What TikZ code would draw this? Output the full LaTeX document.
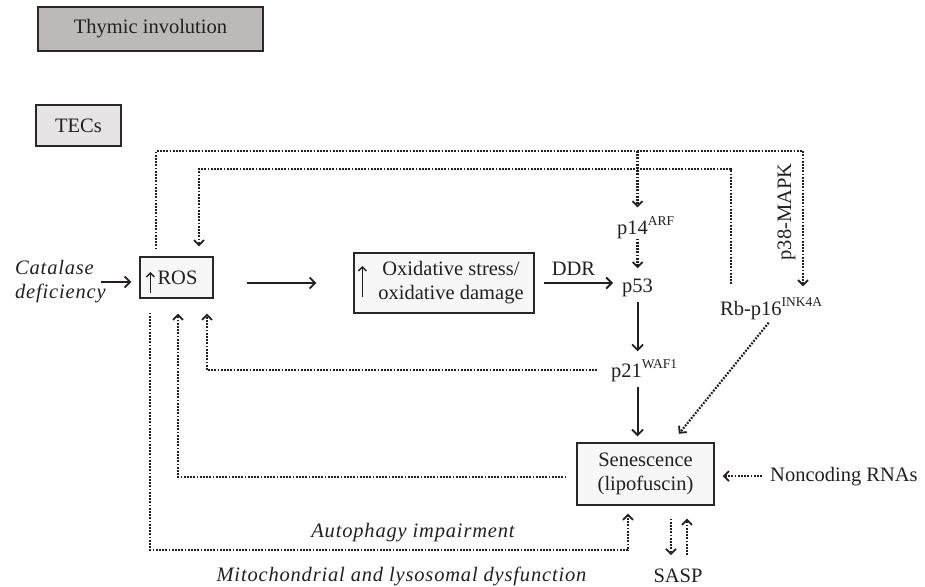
\documentclass[tikz,border=0pt]{standalone}
\usepackage{fontspec}
\setmainfont{Liberation Serif}
\newfontfamily\itf{Liberation Serif}[LetterSpace=4]
\usetikzlibrary{arrows.meta}
\newcommand\supt[1]{\raisebox{9pt}{\fontsize{13.5}{13.5}\selectfont #1}}
\definecolor{thym}{RGB}{189,185,185}
\definecolor{tecc}{RGB}{230,228,228}
\definecolor{lite}{RGB}{247,247,247}
\definecolor{edge}{RGB}{40,40,40}
\definecolor{ink}{RGB}{35,31,32}
\begin{document}
\begin{tikzpicture}[x=1pt,y=-1pt, color=ink,
  every node/.style={font=\fontsize{20.5}{24}\selectfont, inner sep=0pt, text=ink},
  itl/.style={font=\fontsize{20.5}{24}\selectfont\itf\itshape},
  box/.style={draw=edge, line width=1.3pt, fill=lite},
  solidarr/.style={line width=2pt, -{Straight Barb[length=5.5pt,width=11pt,line width=1.8pt]}},
  dotl/.style={line width=2.2pt, dash pattern=on 1.8pt off 1.4pt},
  dotarr/.style={dotl, -{Straight Barb[length=5pt,width=10pt,line width=1.8pt]}},
  uparr/.style={line width=1.5pt, -{Straight Barb[length=4pt,width=8pt,line width=1.4pt]}}]
\useasboundingbox (0,0) rectangle (925,586);

% boxes
\node[box, fill=thym, minimum width=225, minimum height=44] (thy) at (150.5,29) {Thymic involution};
\node[box, fill=tecc, minimum width=85, minimum height=41] (tec) at (78.5,125.5) {TECs};
\node[box, minimum width=73, minimum height=41] (ros) at (176.5,277.5) {\hspace*{2pt}ROS};
\node[box, minimum width=180, minimum height=60] (ox) at (444,283) {};
\node[align=center] (oxt) at (451,283) {Oxidative stress/\\oxidative damage};
\node[box, minimum width=137, minimum height=62, align=center] (sen) at (645.5,474) {Senescence\\(lipofuscin)};

\draw[uparr] ([xshift=11pt,yshift=-15.5pt]ros.west) -- ([xshift=11pt,yshift=5.5pt]ros.west);
\draw[uparr] ([xshift=9pt,yshift=-14pt]ox.west) -- ([xshift=9pt,yshift=17pt]ox.west);

% text nodes
\node[itl, anchor=west, align=left] (cat) at (15,282) {Catalase\\deficiency};
\node[anchor=base] (ddr) at (573.5,275) {DDR};
\node[anchor=base west] (p14) at (617,234) {p14\supt{ARF}};
\node[anchor=base west] (p53) at (622,292) {p53};
\node[anchor=base west] (p21) at (611,377) {p21\supt{WAF1}};
\node[anchor=base west] (rb) at (720,315) {Rb-p16\supt{INK4A}};
\node[anchor=base west] (nc) at (770,481) {Noncoding RNAs};
\node[anchor=base] (sasp) at (678,582) {SASP};
\node[rotate=90, anchor=base] (p38) at (791,212) {p38-MAPK};
\node[itl, anchor=base] (aut) at (413,537) {Autophagy impairment};
\node[itl, anchor=base] (mit) at (401.5,581) {Mitochondrial and lysosomal dysfunction};

% coordinates
\coordinate (ca) at (101,282);
\coordinate (o1) at (156,151);
\coordinate (o2) at (803,151);
\coordinate (o3) at (p53.north |- o1);
\coordinate (i1) at (731,169);
\coordinate (i2) at (199,169);
\coordinate (mb) at (628,550);

% solid connectors
\draw[solidarr, shorten >=8pt] (ca) -- (ca -| ros.west);
\draw[solidarr, shorten <=33pt, shorten >=37pt] (ros.east |- ox.west) -- (ox.west);
\draw[solidarr, shorten <=9pt, shorten >=9pt] (ox.east) -- (ox.east -| p53.west);
\draw[solidarr, shorten <=5.5pt, shorten >=7.6pt] (p53.south) -- (p53.south |- p21.north);
\draw[solidarr, shorten <=5.5pt, shorten >=6pt] (p53.south |- p21.south) -- (p53.south |- sen.north);

% dotted connectors
\draw[dotarr, shorten <=7pt, shorten >=10.6pt] (o1 |- ros.north) -- (o1) -- (o2) -- (o2 |- rb.north);
\draw[dotarr, shorten >=8.5pt] (o3) -- (o3 |- p14.north);
\draw[dotarr, shorten >=10pt] (p53.north |- p14.south) -- (p53.north);
\draw[dotarr, shorten <=12.6pt, shorten >=10pt] (i1 |- rb.north) -- (i1) -- (i2) -- (i2 |- ros.north);
\draw[dotarr, shorten <=14pt, shorten >=15pt] (p21.west) -| ([xshift=30.5pt]ros.south);
\draw[dotarr, shorten <=10pt, shorten >=15pt] ([yshift=-3pt]sen.west) -| ([xshift=1.5pt]ros.south);
\draw[dotarr, shorten <=14pt, shorten >=8pt] ([xshift=-26.5pt]ros.south) |- (mb) -- (mb |- sen.south);
\draw[dotarr, shorten <=4pt, shorten >=11pt] (rb.south) -- ([xshift=26.5pt]sen.north);
\draw[dotarr, shorten <=8pt, shorten >=8pt] (nc.west) -- (nc.west -| sen.east);
\draw[dotarr, shorten <=13pt, shorten >=13pt] ([xshift=-7pt]sasp.north |- sen.south) -- ([xshift=-7pt]sasp.north);
\draw[dotarr, shorten <=13pt, shorten >=13pt] ([xshift=9pt]sasp.north) -- ([xshift=9pt]sasp.north |- sen.south);
\end{tikzpicture}
\end{document}
